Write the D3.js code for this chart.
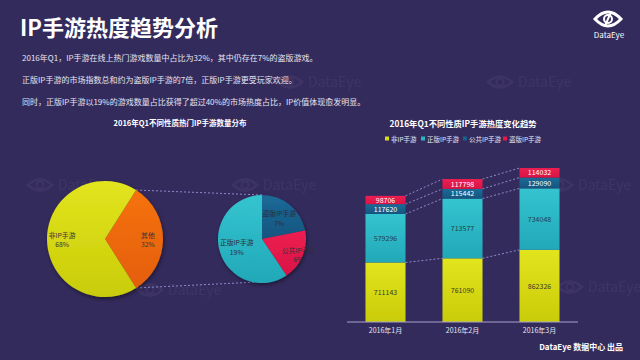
<!DOCTYPE html>
<html><head><meta charset="utf-8">
<script src="https://cdn.jsdelivr.net/npm/d3@7"></script>
<style>
html,body{margin:0;padding:0;background:#342b5d;}
svg{display:block;font-family:"Noto Sans CJK SC","Noto Sans",sans-serif;}
</style></head>
<body>
<svg id="c" width="640" height="360"></svg>
<script>
// ---- data ----
const pageTitle = "IP手游热度趋势分析";
const notes = [
  "2016年Q1，IP手游在线上热门游戏数量中占比为32%，其中仍存在7%的盗版游戏。",
  "正版IP手游的市场指数总和约为盗版IP手游的7倍，正版IP手游更受玩家欢迎。",
  "同时，正版IP手游以19%的游戏数量占比获得了超过40%的市场热度占比，IP价值体现愈发明显。"
];
const pieTitle = "2016年Q1不同性质热门IP手游数量分布";
const bigPieLabels = ["其他", "非IP手游"];
const bigPieValues = [32, 68];
const smallPieLabels = ["盗版IP手游", "公共IP手游", "正版IP手游"];
const smallPieValues = [7, 6, 19];

const barTitle = "2016年Q1不同性质IP手游热度变化趋势";
const months = ["2016年1月", "2016年2月", "2016年3月"];
const seriesNames = ["非IP手游", "正版IP手游", "公共IP手游", "盗版IP手游"];
const nonIP = [711143, 761090, 862326];
const licensedIP = [579296, 713577, 734048];
const publicIP = [117620, 115442, 129090];
const piratedIP = [98706, 117798, 114032];
const footer = "DataEye 数据中心 出品";

// ---- drawing ----
const svg = d3.select("#c");
const defs = svg.append("defs");
svg.append("rect").attr("width", 640).attr("height", 360).attr("fill", "#342b5d");

function grad(id, c1, c2) {
  const g = defs.append("linearGradient").attr("id", id).attr("x1", 0).attr("y1", 0).attr("x2", 0).attr("y2", 1);
  g.append("stop").attr("offset", "0%").attr("stop-color", c1);
  g.append("stop").attr("offset", "100%").attr("stop-color", c2);
}
grad("gY", "#e2e41e", "#c9cc08");
grad("gO", "#f5720c", "#e45e08");
grad("gC", "#34c4d0", "#22a8b8");
grad("gB", "#1b6a98", "#15557f");
grad("gR", "#ee1f52", "#d81445");
const f = defs.append("filter").attr("id", "sh").attr("x", "-20%").attr("y", "-20%").attr("width", "140%").attr("height", "140%");
f.append("feDropShadow").attr("dx", 1).attr("dy", 2).attr("stdDeviation", 2).attr("flood-color", "#000").attr("flood-opacity", 0.45);

// faint watermarks
function watermark(x, y) {
  const g = svg.append("g").attr("transform", `translate(${x},${y})`).attr("opacity", 0.045);
  g.append("path").attr("d", "M-12,0 Q0,-11 12,0 Q0,11 -12,0Z").attr("fill", "none").attr("stroke", "#fff").attr("stroke-width", 2.5);
  g.append("circle").attr("r", 3.5).attr("fill", "none").attr("stroke", "#fff").attr("stroke-width", 2);
  g.append("text").attr("x", 18).attr("y", 5).attr("fill", "#fff").attr("font-size", 14).text("DataEye");
}
[[290, 82], [500, 82], [40, 185], [245, 185], [150, 290], [570, 287], [560, 185]].forEach(p => watermark(p[0], p[1]));

// title & notes
svg.append("text").attr("x", 20).attr("y", 36).attr("fill", "#fff").attr("font-size", 22).attr("font-weight", "bold").text(pageTitle);
svg.selectAll("text.note").data(notes).join("text").attr("class", "note")
  .attr("x", 22).attr("y", (d, i) => 61 + i * 22).attr("fill", "#e6e4f0").attr("font-size", 8).text(d => d);

// logo
const logo = svg.append("g").attr("transform", "translate(608,19)");
logo.append("path").attr("d", "M-13,0 Q0,-14 13,0 Q0,14 -13,0Z").attr("fill", "none").attr("stroke", "#fff").attr("stroke-width", 3);
logo.append("circle").attr("r", 4).attr("fill", "none").attr("stroke", "#fff").attr("stroke-width", 2);
logo.append("line").attr("x1", 3).attr("y1", -7).attr("x2", -3).attr("y2", 7).attr("stroke", "#fff").attr("stroke-width", 2);
svg.append("text").attr("x", 609).attr("y", 38).attr("text-anchor", "middle").attr("fill", "#fff").attr("font-size", 8).text("DataEye");

// ---- pies ----
svg.append("text").attr("x", 180).attr("y", 126).attr("text-anchor", "middle").attr("fill", "#fff")
  .attr("font-size", 7.5).attr("font-weight", "bold").text(pieTitle);

const big = {cx: 105, cy: 239, r: 58};
const small = {cx: 262, cy: 239, r: 44};
const otherShare = bigPieValues[0] / d3.sum(bigPieValues);
const bigStart = Math.PI / 2 - otherShare * Math.PI;
const bigArcs = d3.pie().sort(null).startAngle(bigStart).endAngle(bigStart + 2 * Math.PI)(bigPieValues);
const smallArcs = d3.pie().sort(null)(smallPieValues);

// connector dashed lines
const pt = (c, a, rr) => [c.cx + rr * Math.sin(a), c.cy - rr * Math.cos(a)];
const conn = [
  [pt(big, bigArcs[0].startAngle, big.r), pt(small, 0, small.r)],
  [pt(big, bigArcs[0].endAngle, big.r), pt(small, Math.PI * 1.06, small.r)]
];
svg.selectAll("line.pc").data(conn).join("line").attr("class", "pc")
  .attr("x1", d => d[0][0]).attr("y1", d => d[0][1]).attr("x2", d => d[1][0]).attr("y2", d => d[1][1])
  .attr("stroke", "#8f88c8").attr("stroke-width", 1).attr("stroke-dasharray", "2,2");

const bigFill = ["url(#gO)", "url(#gY)"];
const gBig = svg.append("g").attr("transform", `translate(${big.cx},${big.cy})`).attr("filter", "url(#sh)");
const arcBig = d3.arc().innerRadius(0).outerRadius(big.r);
gBig.selectAll("path").data(bigArcs).join("path").attr("d", arcBig).attr("fill", (d, i) => bigFill[i]);
const lblBig = d3.arc().innerRadius(big.r * 0.74).outerRadius(big.r * 0.74);
const gBigL = svg.append("g").attr("transform", `translate(${big.cx},${big.cy})`);
bigArcs.forEach((d, i) => {
  const [x, y] = lblBig.centroid(d);
  const t = gBigL.append("text").attr("text-anchor", "middle").attr("font-size", 6.8).attr("fill", "#3a3535");
  t.append("tspan").attr("x", x).attr("y", y - 1.5).text(bigPieLabels[i]);
  t.append("tspan").attr("x", x).attr("y", y + 8).text(bigPieValues[i] + "%");
});

const smallFill = ["url(#gB)", "url(#gR)", "url(#gC)"];
const gSmall = svg.append("g").attr("transform", `translate(${small.cx},${small.cy})`).attr("filter", "url(#sh)");
const arcSmall = d3.arc().innerRadius(0).outerRadius(small.r);
gSmall.selectAll("path").data(smallArcs).join("path").attr("d", arcSmall).attr("fill", (d, i) => smallFill[i]);
const lblRad = [0.62, 0.9, 0.6];
const gSmallL = svg.append("g").attr("transform", `translate(${small.cx},${small.cy})`);
smallArcs.forEach((d, i) => {
  const a = d3.arc().innerRadius(small.r * lblRad[i]).outerRadius(small.r * lblRad[i]);
  const [x, y] = a.centroid(d);
  const t = gSmallL.append("text").attr("text-anchor", "middle").attr("font-size", 6.8).attr("fill", "#2e2e3a");
  t.append("tspan").attr("x", x).attr("y", y - 1.5).text(smallPieLabels[i]);
  t.append("tspan").attr("x", x).attr("y", y + 8).text(smallPieValues[i] + "%");
});

// ---- stacked bars ----
svg.append("text").attr("x", 463).attr("y", 127).attr("text-anchor", "middle").attr("fill", "#fff")
  .attr("font-size", 8.3).attr("font-weight", "bold").text(barTitle);

const barColors = ["url(#gY)", "url(#gC)", "url(#gB)", "url(#gR)"];
const legendColors = ["#d6da18", "#2ab4c4", "#1a5f8e", "#e3194c"];
const legendX = [385, 421, 463, 503];
const lg = svg.append("g");
seriesNames.forEach((n, i) => {
  lg.append("rect").attr("x", legendX[i]).attr("y", 136.5).attr("width", 4).attr("height", 4).attr("fill", legendColors[i]);
  lg.append("text").attr("x", legendX[i] + 6).attr("y", 141.5).attr("fill", "#e6e4f0").attr("font-size", 6.5).text(n);
});

const table = months.map((m, i) => ({month: m, s0: nonIP[i], s1: licensedIP[i], s2: publicIP[i], s3: piratedIP[i]}));
const keys = ["s0", "s1", "s2", "s3"];
const stacked = d3.stack().keys(keys)(table);
const x = d3.scaleBand().domain(months).range([347, 578]).paddingInner(0.48).paddingOuter(0.24);
const y = d3.scaleLinear().domain([0, 2000000]).range([322, 154.6]);

// dashed connectors between bars
stacked.forEach(s => {
  for (let i = 0; i < s.length - 1; i++) {
    svg.append("line")
      .attr("x1", x(months[i]) + x.bandwidth()).attr("y1", y(s[i][1]))
      .attr("x2", x(months[i + 1])).attr("y2", y(s[i + 1][1]))
      .attr("stroke", "#8f88c8").attr("stroke-width", 1).attr("stroke-dasharray", "2,2");
  }
});

const labelFill = ["#3a3a2a", "#24404c", "#ffffff", "#ffffff"];
stacked.forEach((s, k) => {
  const g = svg.append("g");
  g.selectAll("rect").data(s).join("rect")
    .attr("x", d => x(d.data.month)).attr("width", x.bandwidth())
    .attr("y", d => y(d[1])).attr("height", d => y(d[0]) - y(d[1]))
    .attr("fill", barColors[k]);
  g.selectAll("text").data(s).join("text")
    .attr("x", d => x(d.data.month) + x.bandwidth() / 2)
    .attr("y", d => (y(d[0]) + y(d[1])) / 2 + 2.6)
    .attr("text-anchor", "middle").attr("font-size", 7).attr("fill", labelFill[k])
    .text(d => d[1] - d[0]);
});

const axis = svg.append("g").attr("transform", "translate(0,322)")
  .call(d3.axisBottom(x).tickSize(0).tickPadding(6));
axis.select(".domain").attr("stroke", "#a7a3cc").attr("d", "M347,0H578");
axis.selectAll("text").attr("fill", "#e6e4f0").attr("font-size", 7).attr("font-family", "Noto Sans CJK SC");

// footer
svg.append("text").attr("x", 623).attr("y", 350).attr("text-anchor", "end").attr("fill", "#fff")
  .attr("font-size", 8).attr("font-weight", "bold").text(footer);
</script>
</body></html>
